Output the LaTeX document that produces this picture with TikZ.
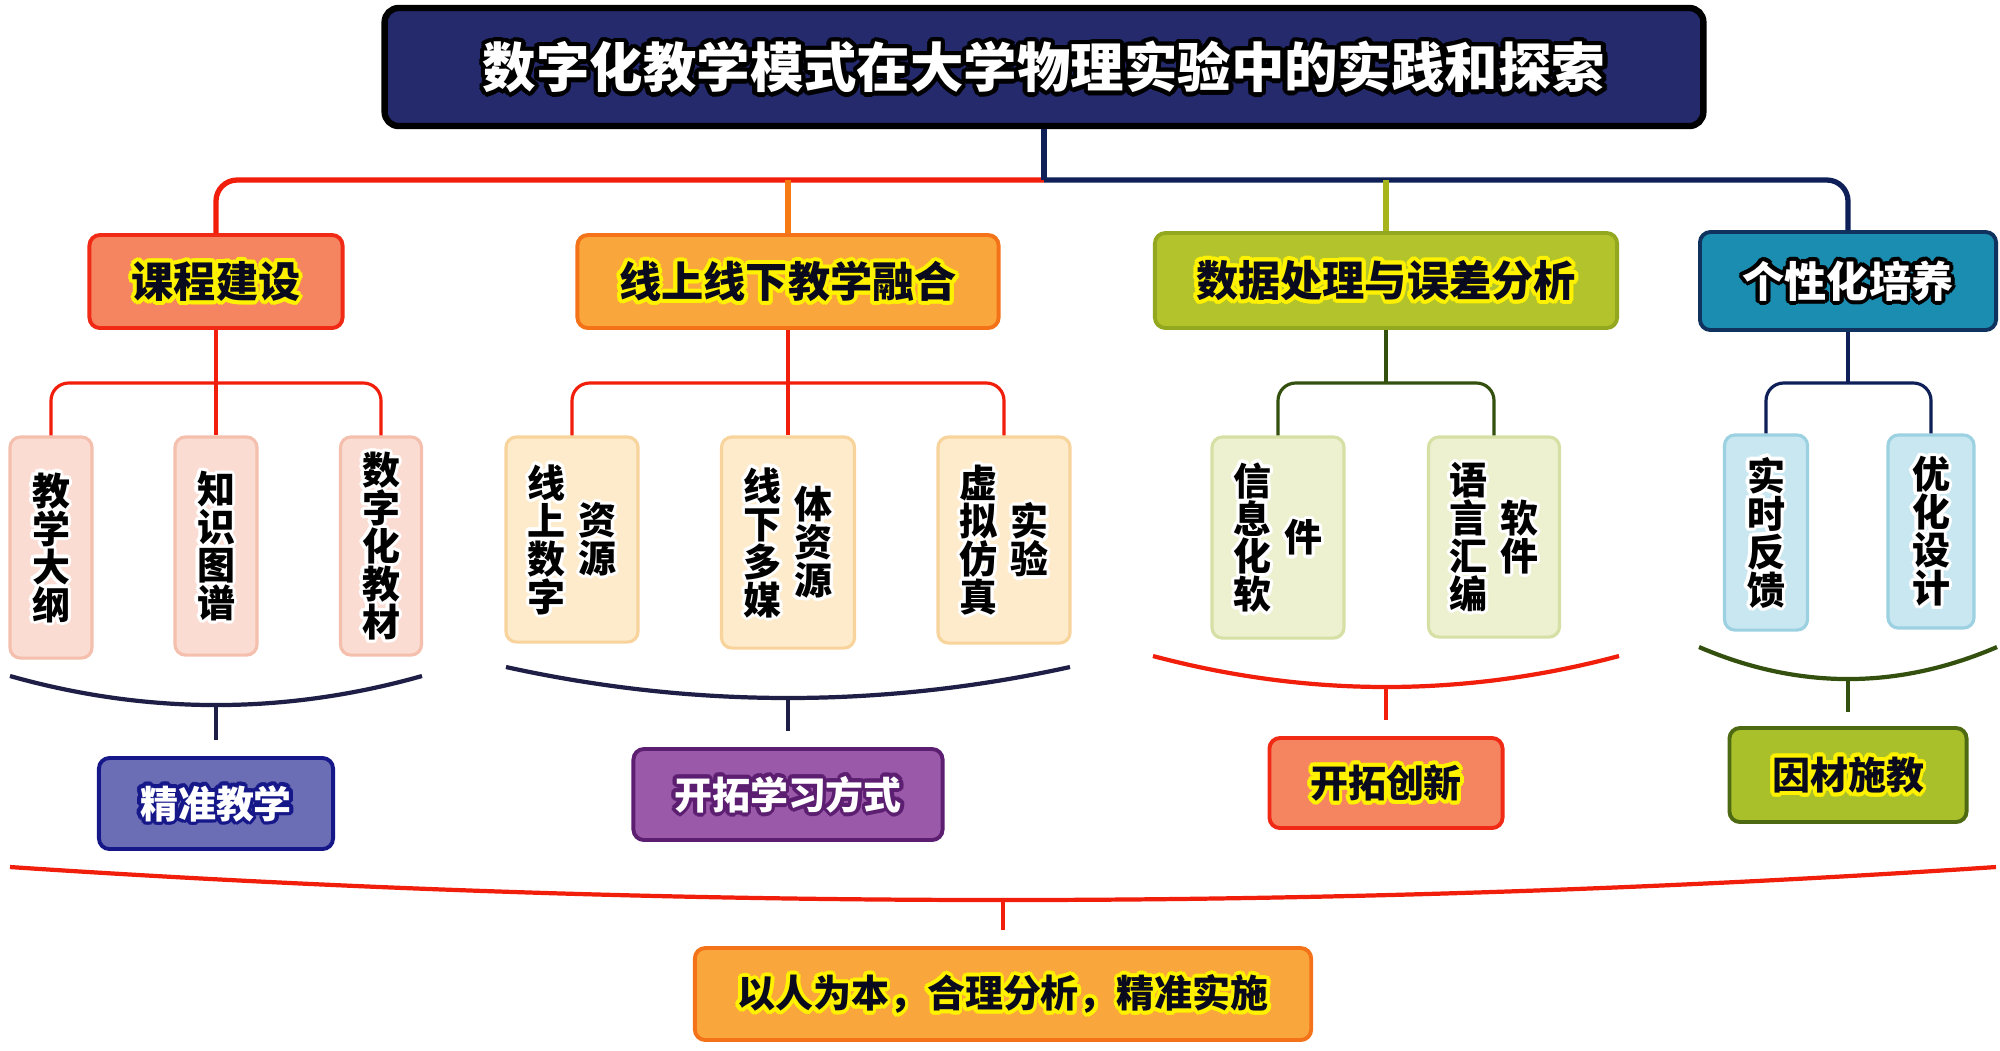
\documentclass[tikz,border=0pt]{standalone}
\usepackage{fontspec}
\newfontfamily\cjk{Noto Sans CJK SC}
\definecolor{titlefill}{HTML}{252A6C}
\definecolor{redline}{HTML}{F01E0A}
\definecolor{orangeline}{HTML}{F57A14}
\definecolor{oliveline}{HTML}{A8B41C}
\definecolor{navyline}{HTML}{0F2058}
\definecolor{darkgreen}{HTML}{34500F}
\definecolor{darknavy}{HTML}{1E1E46}
\definecolor{kcfill}{HTML}{F58560}
\definecolor{kcdraw}{HTML}{F02A14}
\definecolor{xsfill}{HTML}{F9A63C}
\definecolor{xsdraw}{HTML}{F57318}
\definecolor{sjfill}{HTML}{B3C32B}
\definecolor{sjdraw}{HTML}{93A81F}
\definecolor{gxfill}{HTML}{1B8DB1}
\definecolor{gxdraw}{HTML}{10325E}
\definecolor{pinkfill}{HTML}{FBDCD2}
\definecolor{pinkdraw}{HTML}{F4BFAD}
\definecolor{creamfill}{HTML}{FDEBCB}
\definecolor{creamdraw}{HTML}{F8D49C}
\definecolor{lolfill}{HTML}{EEF1D0}
\definecolor{loldraw}{HTML}{D6DFA4}
\definecolor{lbfill}{HTML}{C8E7F1}
\definecolor{lbdraw}{HTML}{9CD1E2}
\definecolor{eonefill}{HTML}{6B6DB5}
\definecolor{eonedraw}{HTML}{16188A}
\definecolor{etwofill}{HTML}{9B5AA9}
\definecolor{etwodraw}{HTML}{5C1E70}
\definecolor{efourfill}{HTML}{A9C02B}
\definecolor{efourdraw}{HTML}{4D6A12}
\definecolor{glowy}{HTML}{FFF200}
\definecolor{ink}{HTML}{0A0A1E}

\newlength\hr
\newcommand\hb[3]{\rlap{\hspace*{#1}\raisebox{#2}{#3}}}
\newcommand\halo[4][1pt]{\leavevmode\setlength\hr{#1}{\color{#2}%
 \hb{\hr}{0pt}{#4}\hb{-\hr}{0pt}{#4}\hb{0pt}{\hr}{#4}\hb{0pt}{-\hr}{#4}%
 \hb{.7071\hr}{.7071\hr}{#4}\hb{-.7071\hr}{.7071\hr}{#4}\hb{.7071\hr}{-.7071\hr}{#4}\hb{-.7071\hr}{-.7071\hr}{#4}%
 \hb{.9239\hr}{.3827\hr}{#4}\hb{-.9239\hr}{.3827\hr}{#4}\hb{.9239\hr}{-.3827\hr}{#4}\hb{-.9239\hr}{-.3827\hr}{#4}%
 \hb{.3827\hr}{.9239\hr}{#4}\hb{-.3827\hr}{.9239\hr}{#4}\hb{.3827\hr}{-.9239\hr}{#4}\hb{-.3827\hr}{-.9239\hr}{#4}}%
 {\color{#3}#4}}
\newcommand\vt[1]{$\vcenter{\baselineskip=1.0em\lineskiplimit=-\maxdimen\lineskip=0pt\halign{\hfil##\hfil\cr#1\crcr}}$}
\newcommand\vtt[2]{\vt{#1}\hspace{3.7pt}\vt{#2}}

\begin{document}
\begin{tikzpicture}[x=0.01cm,y=-0.01cm,
  bx/.style={draw, rounded corners=3pt, inner sep=0pt, line width=1.1pt},
  lvone/.style={bx, font=\cjk\bfseries\fontsize{12}{12}\selectfont},
  vbx/.style={bx, line width=0.9pt, font=\cjk\bfseries\fontsize{10.8}{10.8}\selectfont},
  lvthree/.style={bx, font=\cjk\bfseries\fontsize{10.8}{10.8}\selectfont},
  conn/.style={line width=1.5pt, rounded corners=6pt},
  subc/.style={line width=0.9pt, rounded corners=5pt},
  brace/.style={line width=1.2pt},
]
\useasboundingbox (0,0) rectangle (2000,1050);
\fill[white] (0,0) rectangle (2000,1050);

% title
\node[bx, fill=titlefill, draw=black, line width=1.8pt, rounded corners=4pt,
  minimum width=13.18cm, minimum height=1.18cm,
  font=\cjk\bfseries\fontsize{15.2}{15.2}\selectfont] (title) at (1044,67)
  {\halo[1.3pt]{black}{white}{数字化教学模式在大学物理实验中的实践和探索}};

% level 1
\node[lvone, fill=kcfill, draw=kcdraw, minimum width=2.53cm, minimum height=0.93cm] (kc) at (216,281.5)
  {\halo[1.1pt]{glowy}{ink}{课程建设}};
\node[lvone, fill=xsfill, draw=xsdraw, minimum width=4.21cm, minimum height=0.93cm] (xs) at (788,281.5)
  {\halo[1.1pt]{glowy}{ink}{线上线下教学融合}};
\node[lvone, fill=sjfill, draw=sjdraw, minimum width=4.62cm, minimum height=0.95cm] (sj) at (1386,280.5)
  {\halo[1.1pt]{glowy}{ink}{数据处理与误差分析}};
\node[lvone, fill=gxfill, draw=gxdraw, minimum width=2.96cm, minimum height=0.98cm] (gx) at (1848,281)
  {\halo[1.1pt]{black}{white}{个性化培养}};

% level 2
\node[vbx, fill=pinkfill, draw=pinkdraw, minimum width=0.82cm, minimum height=2.21cm] (a1) at (51,547.5)
  {\halo[0.9pt]{white}{black}{\vt{教\cr 学\cr 大\cr 纲}}};
\node[vbx, fill=pinkfill, draw=pinkdraw, minimum width=0.82cm, minimum height=2.18cm] (a2) at (216,546)
  {\halo[0.9pt]{white}{black}{\vt{知\cr 识\cr 图\cr 谱}}};
\node[vbx, fill=pinkfill, draw=pinkdraw, minimum width=0.81cm, minimum height=2.18cm] (a3) at (381,546)
  {\halo[0.9pt]{white}{black}{\vt{数\cr 字\cr 化\cr 教\cr 材}}};

\node[vbx, fill=creamfill, draw=creamdraw, minimum width=1.32cm, minimum height=2.05cm] (b1) at (572,539.5)
  {\halo[0.9pt]{white}{black}{\vtt{线\cr 上\cr 数\cr 字}{资\cr 源}}};
\node[vbx, fill=creamfill, draw=creamdraw, minimum width=1.33cm, minimum height=2.11cm] (b2) at (788,542.5)
  {\halo[0.9pt]{white}{black}{\vtt{线\cr 下\cr 多\cr 媒}{体\cr 资\cr 源}}};
\node[vbx, fill=creamfill, draw=creamdraw, minimum width=1.32cm, minimum height=2.06cm] (b3) at (1004,540)
  {\halo[0.9pt]{white}{black}{\vtt{虚\cr 拟\cr 仿\cr 真}{实\cr 验}}};

\node[vbx, fill=lolfill, draw=loldraw, minimum width=1.32cm, minimum height=2.01cm] (c1) at (1278,537.5)
  {\halo[0.9pt]{white}{black}{\vtt{信\cr 息\cr 化\cr 软}{件}}};
\node[vbx, fill=lolfill, draw=loldraw, minimum width=1.31cm, minimum height=2.00cm] (c2) at (1494,537)
  {\halo[0.9pt]{white}{black}{\vtt{语\cr 言\cr 汇\cr 编}{软\cr 件}}};

\node[vbx, fill=lbfill, draw=lbdraw, minimum width=0.83cm, minimum height=1.95cm] (d1) at (1766,532.5)
  {\halo[0.9pt]{white}{black}{\vt{实\cr 时\cr 反\cr 馈}}};
\node[vbx, fill=lbfill, draw=lbdraw, minimum width=0.86cm, minimum height=1.93cm] (d2) at (1931,531.5)
  {\halo[0.9pt]{white}{black}{\vt{优\cr 化\cr 设\cr 计}}};

% level 3
\node[lvthree, fill=eonefill, draw=eonedraw, minimum width=2.34cm, minimum height=0.91cm] (e1) at (216,803.5)
  {\halo[1.1pt]{eonedraw}{white}{精准教学}};
\node[lvthree, fill=etwofill, draw=etwodraw, minimum width=3.09cm, minimum height=0.91cm] (e2) at (788,794.5)
  {\halo[1.1pt]{etwodraw}{white}{开拓学习方式}};
\node[lvthree, fill=kcfill, draw=kcdraw, minimum width=2.33cm, minimum height=0.90cm] (e3) at (1386,783)
  {\halo[1.1pt]{glowy}{ink}{开拓创新}};
\node[lvthree, fill=efourfill, draw=efourdraw, minimum width=2.37cm, minimum height=0.94cm] (e4) at (1848,775)
  {\halo[1.1pt]{glowy}{ink}{因材施教}};

% final
\node[lvthree, fill=xsfill, draw=xsdraw, minimum width=6.16cm, minimum height=0.92cm] (fin) at (1003,994)
  {\halo[1.1pt]{glowy}{ink}{以人为本，合理分析，精准实施}};

% top connectors
\coordinate (hub) at (1044,180);
\draw[conn, redline] (hub) -| (kc.north);
\draw[conn, navyline] (hub) -| (gx.north);
\draw[conn, orangeline] (hub -| xs.north) -- (xs.north);
\draw[conn, oliveline] (hub -| sj.north) -- (sj.north);
\draw[conn, navyline] (title.south) -- (hub);

% group connectors
\coordinate (kb) at (216,383);
\coordinate (xb) at (788,383);
\coordinate (sb) at (1386,383);
\coordinate (gb) at (1848,383);
\draw[subc, redline] (kc.south) -- (kb);
\draw[subc, redline] (a1.north) |- (kb) -| (a3.north);
\draw[subc, redline] (kb) -- (a2.north);
\draw[subc, redline] (xs.south) -- (xb);
\draw[subc, redline] (b1.north) |- (xb) -| (b3.north);
\draw[subc, redline] (xb) -- (b2.north);
\draw[subc, darkgreen] (sj.south) -- (sb);
\draw[subc, darkgreen] (c1.north) |- (sb) -| (c2.north);
\draw[subc, navyline] (gx.south) -- (gb);
\draw[subc, navyline] (d1.north) |- (gb) -| (d2.north);

% braces
\coordinate (k1L) at (10,676);  \coordinate (k1R) at (422,676);
\coordinate (k1) at (216,705);  \coordinate (k1e) at (216,740);
\draw[brace, darknavy] (k1L) .. controls (147.3,714.7) and (284.7,714.7) .. (k1R);
\draw[brace, darknavy] (k1) -- (k1e);

\coordinate (k2L) at (506,667);  \coordinate (k2R) at (1070,667);
\coordinate (k2) at (788,698);   \coordinate (k2e) at (788,731);
\draw[brace, darknavy] (k2L) .. controls (694,708.3) and (882,708.3) .. (k2R);
\draw[brace, darknavy] (k2) -- (k2e);

\coordinate (k3L) at (1153,656);  \coordinate (k3R) at (1619,656);
\coordinate (k3) at (1386,687);   \coordinate (k3e) at (1386,720);
\draw[brace, redline] (k3L) .. controls (1308.3,697.3) and (1463.7,697.3) .. (k3R);
\draw[brace, redline] (k3) -- (k3e);

\coordinate (k4L) at (1699,647);  \coordinate (k4R) at (1997,647);
\coordinate (k4) at (1848,679);   \coordinate (k4e) at (1848,712);
\draw[brace, darkgreen] (k4L) .. controls (1798.3,689.7) and (1897.7,689.7) .. (k4R);
\draw[brace, darkgreen] (k4) -- (k4e);

\coordinate (k5L) at (10,867);  \coordinate (k5R) at (1996,867);
\coordinate (k5) at (1003,900); \coordinate (k5e) at (1003,930);
\draw[brace, redline] (k5L) .. controls (672,911) and (1334,911) .. (k5R);
\draw[brace, redline] (k5) -- (k5e);
\end{tikzpicture}
\end{document}
